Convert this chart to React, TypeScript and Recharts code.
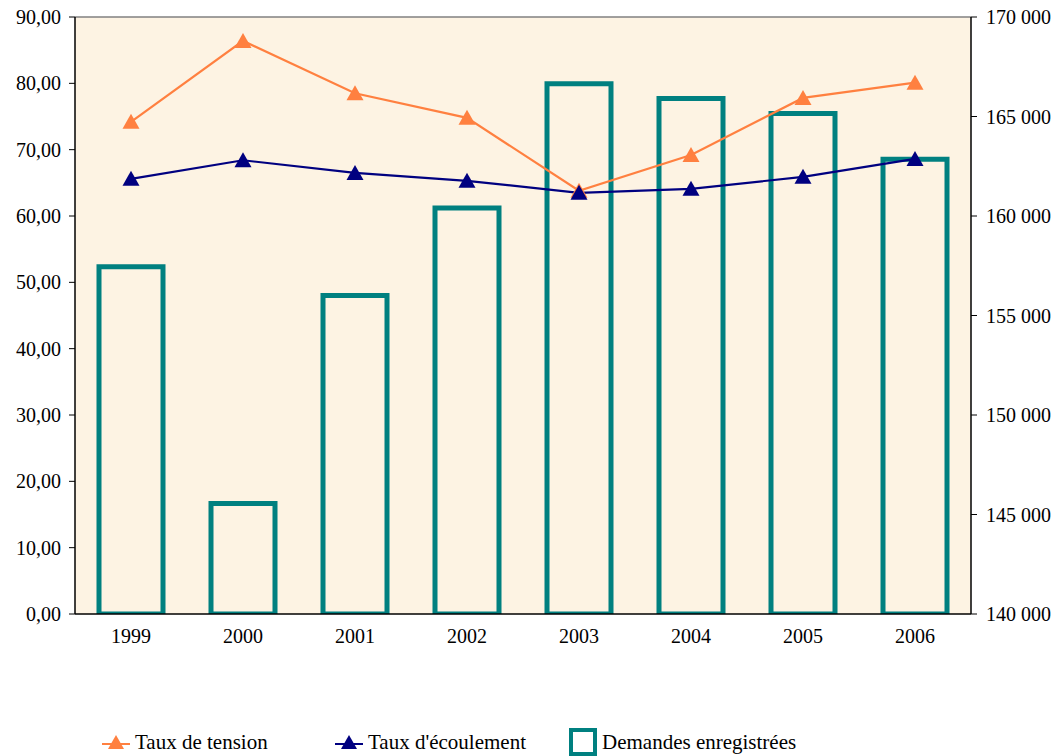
import { Bar, CartesianGrid, ComposedChart, Line, ReferenceLine, XAxis, YAxis } from "recharts";

const years = ["1999", "2000", "2001", "2002", "2003", "2004", "2005", "2006"];
const tension = [74.2, 86.4, 78.5, 74.8, 63.8, 69.2, 77.8, 80.1];
const ecoulement = [65.6, 68.4, 66.5, 65.3, 63.5, 64.1, 65.9, 68.6];
const demandes = [157450, 145550, 156000, 160400, 166650, 165900, 165150, 162850];

const leftTicks = [0, 10, 20, 30, 40, 50, 60, 70, 80, 90];
const rightTicks = [140000, 145000, 150000, 155000, 160000, 165000, 170000];

const data = years.map((y, i) => ({
  year: y,
  tension: tension[i],
  ecoulement: ecoulement[i],
  demandes: demandes[i],
}));

const ORANGE = "#FF8040";
const NAVY = "#000080";
const TEAL = "#008080";
const FONT = "Liberation Serif, serif";

const fmtLeft = (v: number) => v.toFixed(2).replace(".", ",");
const fmtRight = (v: number) => String(v).replace(/\B(?=(\d{3})+(?!\d))/g, " ");

function Triangle({ cx, cy, fill }: { cx?: number; cy?: number; fill: string }) {
  if (cx == null || cy == null) return null;
  const w = 17;
  const h = 14;
  return (
    <path
      d={`M${cx},${cy - h / 2 - 1} L${cx + w / 2},${cy + h / 2} L${cx - w / 2},${cy + h / 2} Z`}
      fill={fill}
    />
  );
}

// tick text drawn by hand so the serif font and offsets stick
function Tick({ x, y, payload, anchor, dx, dy, fmt }: any) {
  return (
    <g>
      <text
        x={x + dx}
        y={y + dy + 7}
        textAnchor={anchor}
        fontFamily={FONT}
        fontSize="20px"
        fill="#000"
      >
        {fmt ? fmt(payload.value) : payload.value}
      </text>
    </g>
  );
}

function LegendTri({ color }: { color: string }) {
  return (
    <svg width={28} height={18} style={{ display: "block" }}>
      <line x1={0} y1={11} x2={28} y2={11} stroke={color} strokeWidth={2} />
      <path d="M14,2 L22,16 L6,16 Z" fill={color} />
    </svg>
  );
}

const itemStyle = { position: "absolute" as const, top: 0, height: 28, display: "flex", alignItems: "center", whiteSpace: "nowrap" as const };

export default function App() {
  return (
    <div style={{ position: "absolute", left: 0, top: 0, width: 1059, height: 756, background: "#fff", fontFamily: FONT }}>
      <ComposedChart
        width={1059}
        height={756}
        data={data}
        margin={{ top: 17, right: 0, left: 0, bottom: 102 }}
      >
        <CartesianGrid fill="#FDF3E3" horizontal={false} vertical={false} yAxisId="left" />
        <XAxis
          dataKey="year"
          height={40}
          tickLine={false}
          axisLine={{ stroke: "#000", strokeWidth: 1.5 }}
          tick={(p: any) => <Tick {...p} anchor="middle" dx={0} dy={14} />}
        />
        <YAxis
          yAxisId="left"
          width={75}
          domain={[0, 90]}
          ticks={leftTicks}
          axisLine={{ stroke: "#000", strokeWidth: 1.5 }}
          tickLine={{ stroke: "#000" }}
          tickSize={6}
          tick={(p: any) => <Tick {...p} anchor="end" dx={-6} dy={0} fmt={fmtLeft} />}
          interval={0}
        />
        <YAxis
          yAxisId="right"
          orientation="right"
          width={88}
          domain={[140000, 170000]}
          ticks={rightTicks}
          axisLine={{ stroke: "#000", strokeWidth: 1.5 }}
          tickLine={{ stroke: "#000" }}
          tickSize={6}
          tick={(p: any) => <Tick {...p} anchor="start" dx={7} dy={0} fmt={fmtRight} />}
          interval={0}
          allowDataOverflow
        />
        <ReferenceLine yAxisId="left" y={90} stroke="#808080" strokeWidth={1.5} />
        <Bar
          yAxisId="right"
          dataKey="demandes"
          fill="none"
          stroke={TEAL}
          strokeWidth={5}
          barSize={64}
          isAnimationActive={false}
        />
        <Line
          yAxisId="left"
          dataKey="tension"
          type="linear"
          stroke={ORANGE}
          strokeWidth={2.2}
          dot={(p: any) => <Triangle key={p.index} cx={p.cx} cy={p.cy} fill={ORANGE} />}
          activeDot={false}
          isAnimationActive={false}
        />
        <Line
          yAxisId="left"
          dataKey="ecoulement"
          type="linear"
          stroke={NAVY}
          strokeWidth={2.2}
          dot={(p: any) => <Triangle key={p.index} cx={p.cx} cy={p.cy} fill={NAVY} />}
          activeDot={false}
          isAnimationActive={false}
        />
      </ComposedChart>
      <div style={{ position: "absolute", top: 728, left: 0, width: 1059, height: 28, fontSize: 21, color: "#000" }}>
        <div style={{ ...itemStyle, left: 102 }}>
          <LegendTri color={ORANGE} />
          <span style={{ marginLeft: 5 }}>Taux de tension</span>
        </div>
        <div style={{ ...itemStyle, left: 335 }}>
          <LegendTri color={NAVY} />
          <span style={{ marginLeft: 5 }}>Taux d'écoulement</span>
        </div>
        <div style={{ ...itemStyle, left: 569 }}>
          <span
            style={{
              display: "inline-block",
              width: 20,
              height: 20,
              border: `4px solid ${TEAL}`,
            }}
          />
          <span style={{ marginLeft: 5 }}>Demandes enregistrées</span>
        </div>
      </div>
    </div>
  );
}
